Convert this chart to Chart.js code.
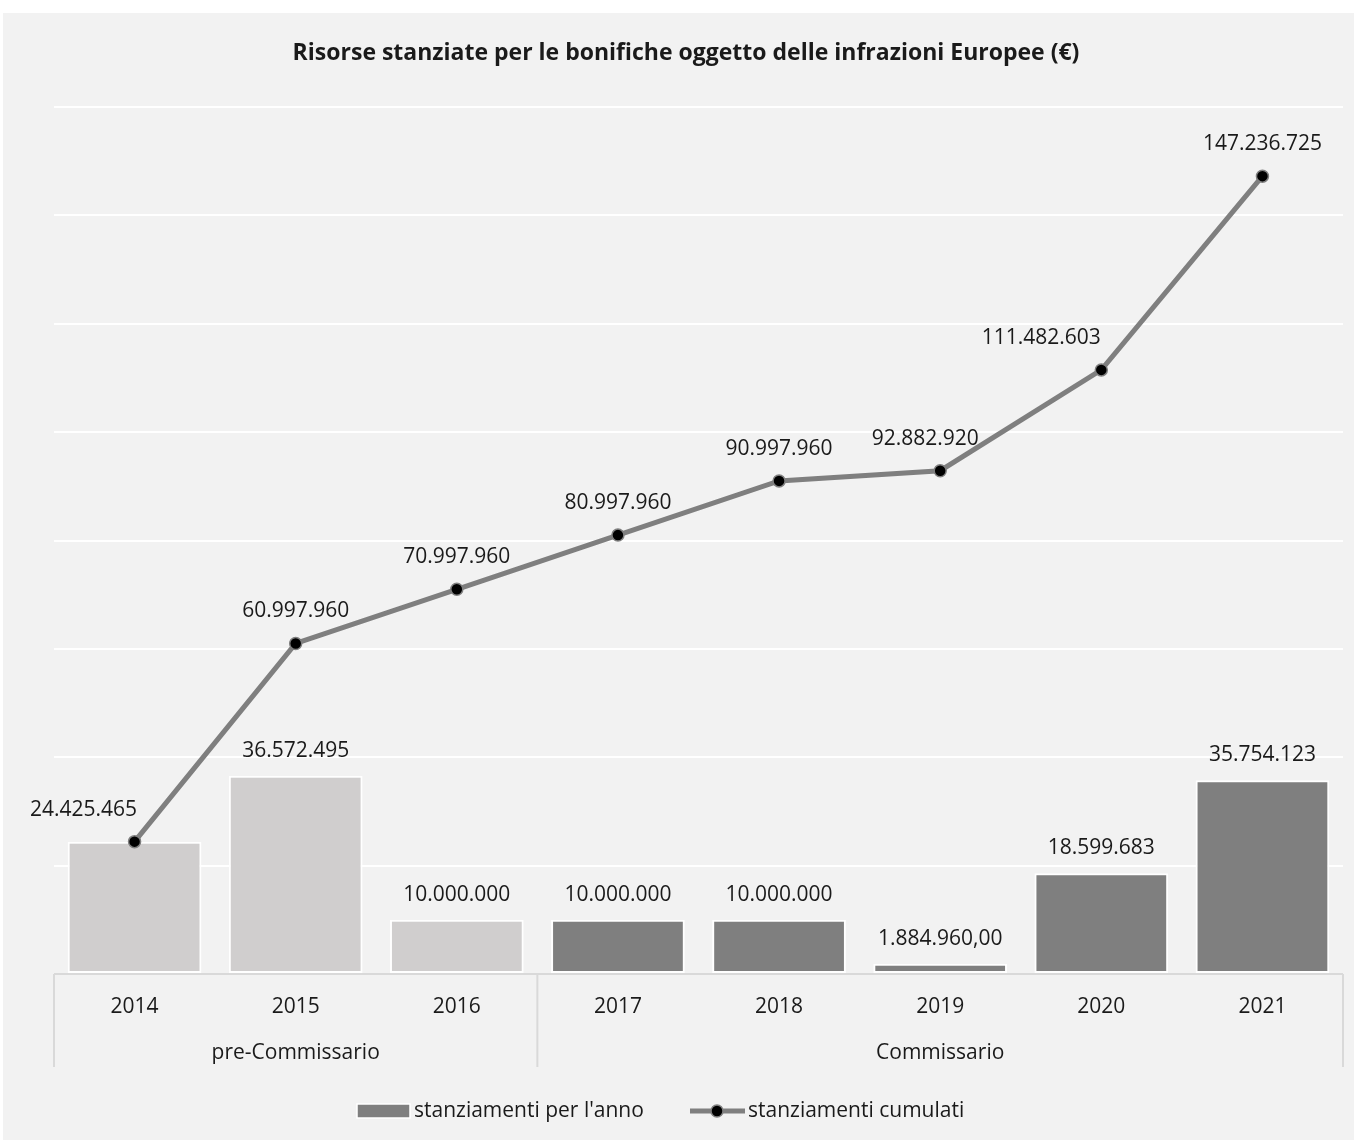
<!DOCTYPE html>
<html>
<head>
<meta charset="utf-8">
<script src="https://cdn.jsdelivr.net/npm/chart.js@4.4.1/dist/chart.umd.min.js"></script>
<style>
  html, body { margin: 0; padding: 0; background: #ffffff; }
  canvas { display: block; }
</style>
</head>
<body>
<canvas id="bonifiche" width="1354" height="1140"></canvas>
<script>
// dati
const years = ["2014", "2015", "2016", "2017", "2018", "2019", "2020", "2021"];
const annualValues = [24425465, 36572495, 10000000, 10000000, 10000000, 1884960, 18599683, 35754123];
const cumulativeValues = [24425465, 60997960, 70997960, 80997960, 90997960, 92882920, 111482603, 147236725];
const annualDecimals = [0, 0, 0, 0, 0, 2, 0, 0];
const groupLabels = ["pre-Commissario", "Commissario"];
const groupSizes = [3, 5];
const yTicksMax = 160000000;
const yTicksStep = 20000000;

// spostamenti orizzontali delle etichette della linea (come nell'originale)
const lineLabelNudgeX = [-51, 0, 0, 0, 0, -15, -60, 0];

const FONT = "'Open Sans', 'Noto Sans', sans-serif";
const TEXT = "#1a1a1a";
const LIGHT = "#d0cece";
const DARK = "#7f7f7f";

function fmt(v, dec) {
  const parts = v.toFixed(dec).split(".");
  const intPart = parts[0].replace(/\B(?=(\d{3})+(?!\d))/g, ".");
  return parts.length > 1 ? intPart + "," + parts[1] : intPart;
}

const barColors = years.map((y, i) => (i < groupSizes[0] ? LIGHT : DARK));

// sfondo, titolo, etichette, assi a due livelli, legenda
const decorPlugin = {
  id: "decor",
  beforeDraw(chart) {
    const ctx = chart.ctx;
    ctx.save();
    ctx.fillStyle = "#ffffff";
    ctx.fillRect(0, 0, chart.width, chart.height);
    ctx.fillStyle = "#f2f2f2";
    ctx.fillRect(3, 13, chart.width - 3, chart.height - 13);
    ctx.fillStyle = TEXT;
    ctx.font = "bold 23px " + FONT;
    ctx.textAlign = "center";
    ctx.textBaseline = "middle";
    ctx.fillText("Risorse stanziate per le bonifiche oggetto delle infrazioni Europee (€)", 686, 53);
    ctx.restore();
  },
  afterDatasetsDraw(chart) {
    const ctx = chart.ctx;
    const area = chart.chartArea;
    const x = chart.scales.x;
    ctx.save();

    // linea di base e separatori dei gruppi
    ctx.strokeStyle = "#d9d9d9";
    ctx.lineWidth = 2;
    ctx.beginPath();
    ctx.moveTo(area.left, area.bottom);
    ctx.lineTo(area.right, area.bottom);
    ctx.stroke();

    const sepBottom = area.bottom + 93;
    const step = x.getPixelForValue(1) - x.getPixelForValue(0);
    let start = 0;
    const seps = [area.left];
    groupSizes.forEach((n) => {
      start += n;
      seps.push(x.getPixelForValue(start - 1) + step / 2);
    });
    ctx.beginPath();
    seps.forEach((sx) => {
      ctx.moveTo(sx, area.bottom);
      ctx.lineTo(sx, sepBottom);
    });
    ctx.stroke();

    ctx.fillStyle = TEXT;
    ctx.font = "21px " + FONT;
    ctx.textAlign = "center";
    ctx.textBaseline = "middle";
    start = 0;
    groupSizes.forEach((n, g) => {
      const cx = (x.getPixelForValue(start) + x.getPixelForValue(start + n - 1)) / 2;
      ctx.fillText(groupLabels[g], cx, area.bottom + 79);
      start += n;
    });

    // etichette dei dati
    const barMeta = chart.getDatasetMeta(1);
    barMeta.data.forEach((el, i) => {
      if (annualValues[i] === cumulativeValues[i]) return;
      ctx.fillText(fmt(annualValues[i], annualDecimals[i]), el.x, el.y - 25);
    });
    const lineMeta = chart.getDatasetMeta(0);
    lineMeta.data.forEach((el, i) => {
      ctx.fillText(fmt(cumulativeValues[i], 0), el.x + lineLabelNudgeX[i], el.y - 32);
    });

    // legenda
    const ly = 1111;
    const ds0 = chart.data.datasets[1];
    const ds1 = chart.data.datasets[0];
    ctx.textAlign = "left";
    ctx.fillStyle = DARK;
    ctx.strokeStyle = "#ffffff";
    ctx.lineWidth = 1.5;
    ctx.fillRect(357, ly - 7, 53, 14);
    ctx.strokeRect(357, ly - 7, 53, 14);
    ctx.fillStyle = TEXT;
    ctx.fillText(ds0.label, 414, ly);
    ctx.strokeStyle = DARK;
    ctx.lineWidth = 5;
    ctx.beginPath();
    ctx.moveTo(690, ly);
    ctx.lineTo(745, ly);
    ctx.stroke();
    ctx.beginPath();
    ctx.arc(717, ly, 6, 0, Math.PI * 2);
    ctx.fillStyle = "#000000";
    ctx.fill();
    ctx.lineWidth = 1.5;
    ctx.strokeStyle = DARK;
    ctx.stroke();
    ctx.fillStyle = TEXT;
    ctx.fillText(ds1.label, 748, ly);
    ctx.restore();
  }
};

new Chart(document.getElementById("bonifiche"), {
  type: "bar",
  data: {
    labels: years,
    datasets: [
      {
        type: "line",
        label: "stanziamenti cumulati",
        data: cumulativeValues,
        borderColor: DARK,
        borderWidth: 5,
        pointRadius: 6,
        pointBackgroundColor: "#000000",
        pointBorderColor: DARK,
        pointBorderWidth: 1.5,
        tension: 0,
        order: 0
      },
      {
        label: "stanziamenti per l'anno",
        data: annualValues,
        backgroundColor: barColors,
        borderColor: "#ffffff",
        borderWidth: 2,
        borderSkipped: false,
        categoryPercentage: 1,
        barPercentage: 0.83,
        order: 1
      }
    ]
  },
  options: {
    responsive: false,
    animation: false,
    devicePixelRatio: 1,
    layout: {
      padding: { left: 54, right: 11, top: 107, bottom: 73 }
    },
    plugins: {
      legend: { display: false },
      title: { display: false },
      tooltip: { enabled: false }
    },
    scales: {
      x: {
        grid: { display: false },
        border: { display: false },
        ticks: {
          color: TEXT,
          font: { family: FONT, size: 21 },
          padding: 12
        },
        afterFit(scale) {
          scale.height = 93;
        }
      },
      y: {
        min: 0,
        max: yTicksMax,
        border: { display: false },
        grid: {
          color: (c) => (c.tick && c.tick.value === 0 ? "rgba(0,0,0,0)" : "#ffffff"),
          lineWidth: 2,
          drawTicks: false
        },
        ticks: { display: false, stepSize: yTicksStep },
        afterFit(scale) {
          scale.width = 0;
        }
      }
    }
  },
  plugins: [decorPlugin]
});
</script>
</body>
</html>
